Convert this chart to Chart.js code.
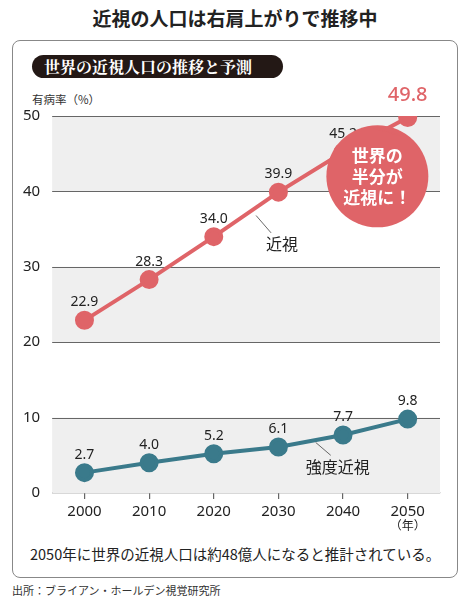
<!DOCTYPE html>
<html><head><meta charset="utf-8">
<script src="https://cdn.jsdelivr.net/npm/chart.js@4"></script>
<style>
body{margin:0;width:470px;height:604px;background:#fff;font-family:"Noto Sans CJK JP",sans-serif;position:relative;overflow:hidden}
#title{position:absolute;top:4px;left:0;width:470px;text-align:center;font-size:19px;font-weight:bold;color:#222}
#box{position:absolute;left:12px;top:40px;width:446px;height:538px;border:1.5px solid #888;border-radius:8px;box-sizing:border-box}
#banner{position:absolute;left:32px;top:55px;width:251px;height:23px;background:#231815;border-radius:12px;color:#fff;font-family:"Noto Serif CJK JP","Noto Sans CJK JP",serif;font-weight:bold;font-size:16px;line-height:23px;text-indent:12px}
#unit{position:absolute;left:32px;top:91px;font-size:11.5px;color:#333}
#note{position:absolute;left:30px;top:543px;font-size:14.5px;color:#222}
#src{position:absolute;left:12px;top:582px;font-size:11px;color:#333}
canvas{position:absolute;left:0;top:0}
</style></head><body>
<div id="title">近視の人口は右肩上がりで推移中</div>
<div id="box"></div>
<div id="banner">世界の近視人口の推移と予測</div>
<div id="unit">有病率（%）</div>
<div id="note">2050年に世界の近視人口は約48億人になると推計されている。</div>
<div id="src">出所：ブライアン・ホールデン視覚研究所</div>
<canvas id="c" width="470" height="604"></canvas>
<script>
const years = ['2000', '2010', '2020', '2030', '2040', '2050'];
const myopia = [22.9, 28.3, 34.0, 39.9, 45.2, 49.8];
const highMyopia = [2.7, 4.0, 5.2, 6.1, 7.7, 9.8];
const yTicks = [0, 10, 20, 30, 40, 50];
const grayBands = [[40, 50], [20, 30], [0, 10]];

const RED = '#df6468', TEAL = '#3a7a8b';

const bands = {
  id: 'bands',
  beforeDatasetsDraw(chart) {
    const {ctx, chartArea: a, scales: {y}} = chart;
    ctx.save();
    ctx.fillStyle = '#efefef';
    grayBands.forEach(b => {
      const t = y.getPixelForValue(b[1]), bt = y.getPixelForValue(b[0]);
      ctx.fillRect(a.left, t, a.right - a.left, bt - t);
    });
    ctx.strokeStyle = '#666'; ctx.lineWidth = 1.2;
    yTicks.forEach(v => {
      if (v === 0) return;
      const p = Math.round(y.getPixelForValue(v)) + 0.5;
      ctx.beginPath(); ctx.moveTo(a.left, p); ctx.lineTo(a.right, p); ctx.stroke();
    });
    ctx.restore();
  },
  afterDatasetsDraw(chart) {
    const {ctx, scales: {x, y}} = chart;
    ctx.save();
    ctx.textAlign = 'center';
    ctx.textBaseline = 'bottom';
    chart.data.datasets.forEach((ds, di) => {
      ds.data.forEach((v, i) => {
        const px = x.getPixelForValue(i), py = y.getPixelForValue(v);
        const last = di === 0 && i === ds.data.length - 1;
        ctx.fillStyle = last ? RED : '#222';
        ctx.font = last ? '500 20px "Noto Sans"' : '14px "Noto Sans"';
        ctx.fillText(v.toFixed(1), px, py - (last ? 12 : 11));
      });
    });
    // series labels with leader lines
    ctx.strokeStyle = '#444'; ctx.lineWidth = 0.8;
    ctx.font = '16px "Noto Sans CJK JP"'; ctx.fillStyle = '#222';
    const xm = (x.getPixelForValue(2) + x.getPixelForValue(3)) / 2;
    ctx.beginPath(); ctx.moveTo(xm + 10, y.getPixelForValue(36.8)); ctx.lineTo(xm + 25, y.getPixelForValue(34.5)); ctx.stroke();
    ctx.textAlign = 'left'; ctx.textBaseline = 'middle';
    ctx.fillText('近視', xm + 20, y.getPixelForValue(33.1));
    const xm2 = (x.getPixelForValue(3) + x.getPixelForValue(4)) / 2;
    ctx.beginPath(); ctx.moveTo(xm2 + 5, y.getPixelForValue(6.7)); ctx.lineTo(xm2 + 20, y.getPixelForValue(5.0)); ctx.stroke();
    ctx.fillText('強度近視', xm2 - 5, y.getPixelForValue(3.5));
    // callout bubble
    const bx = (x.getPixelForValue(4) + x.getPixelForValue(5)) / 2 + 2, by = y.getPixelForValue(42);
    ctx.fillStyle = RED;
    ctx.beginPath(); ctx.arc(bx, by, 51, 0, Math.PI * 2); ctx.fill();
    ctx.beginPath(); ctx.moveTo(bx - 5, by - 48); ctx.lineTo(x.getPixelForValue(5) - 7, y.getPixelForValue(47.3)); ctx.lineTo(bx + 30, by - 40); ctx.fill();
    ctx.fillStyle = '#fff'; ctx.textAlign = 'center';
    ctx.font = 'bold 17px "Noto Sans CJK JP"';
    ['世界の', '半分が', '近視に！'].forEach((t, i) => ctx.fillText(t, bx, by - 21 + i * 21));
    // year unit
    ctx.fillStyle = '#222'; ctx.font = '12px "Noto Sans CJK JP"'; ctx.textBaseline = 'top';
    ctx.fillText('（年）', x.getPixelForValue(5), y.bottom + 26);
    ctx.restore();
  }
};

new Chart(document.getElementById('c'), {
  type: 'line',
  data: {
    labels: years,
    datasets: [
      {data: myopia, borderColor: RED, backgroundColor: RED, borderWidth: 4, pointRadius: 7.5, pointHoverRadius: 7.5},
      {data: highMyopia, borderColor: TEAL, backgroundColor: TEAL, borderWidth: 4, pointRadius: 7.5, pointHoverRadius: 7.5}
    ]
  },
  options: {
    responsive: false,
    animation: false,
    events: [],
    layout: {padding: {top: 116, left: 19, right: 30, bottom: 79}},
    plugins: {legend: {display: false}, tooltip: {enabled: false}},
    scales: {
      x: {
        offset: true,
        grid: {display: true, drawOnChartArea: false, offset: false, tickLength: 6, color: '#666', lineWidth: 1.2},
        border: {color: '#666', width: 1.2},
        ticks: {color: '#222', font: {size: 15, family: 'Noto Sans'}, padding: 4}
      },
      y: {
        min: 0, max: 50,
        afterBuildTicks: s => { s.ticks = yTicks.map(v => ({value: v})); },
        grid: {display: false},
        border: {display: false},
        ticks: {color: '#222', font: {size: 15, family: 'Noto Sans'}, padding: 4}
      }
    }
  },
  plugins: [bands]
});
</script>
</body></html>
